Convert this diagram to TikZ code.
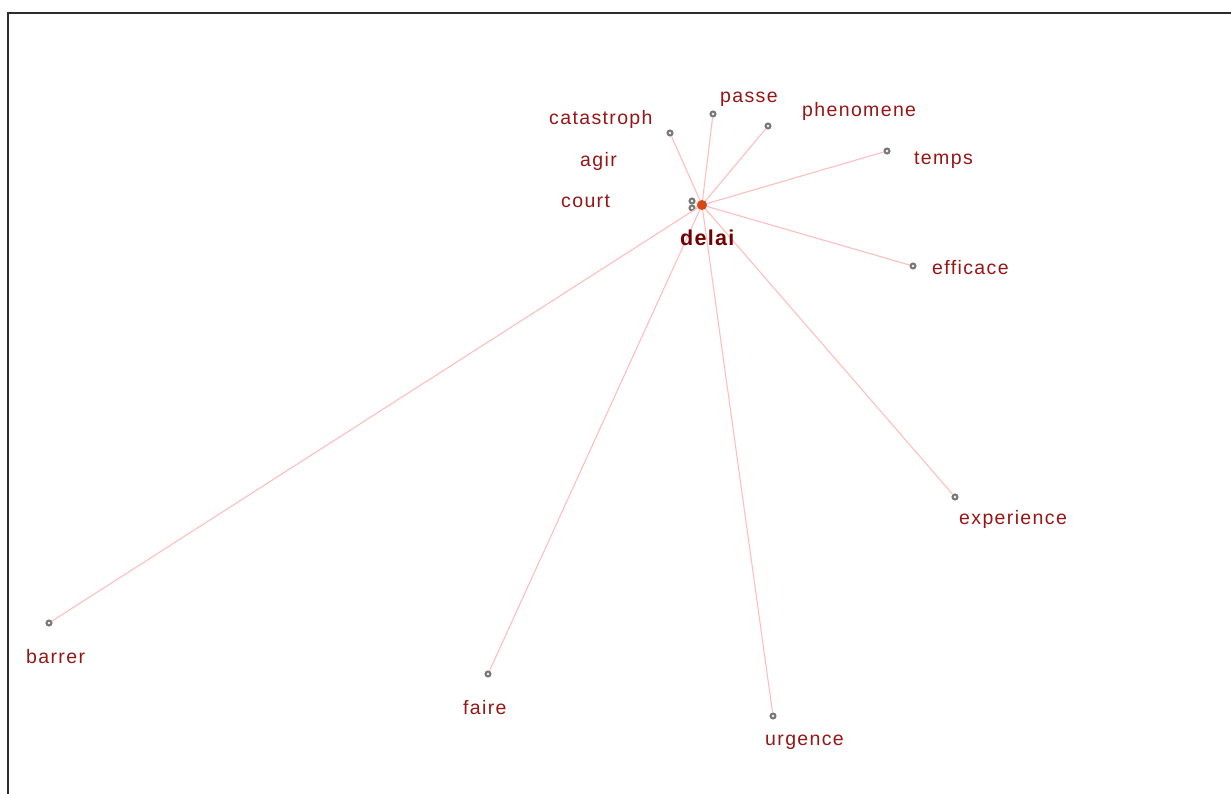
\documentclass[tikz,border=0pt]{standalone}
\usepackage{fontspec}
\setmainfont{Liberation Sans}
\newfontfamily\lblfont[LetterSpace=7]{Liberation Sans}
\newfontfamily\hubfont[LetterSpace=6]{Liberation Sans}
\usepackage{tikz}
\usetikzlibrary{positioning,calc}
\definecolor{wordred}{RGB}{150,22,22}
\definecolor{hubred}{RGB}{115,0,0}
\definecolor{hubdot}{RGB}{214,72,20}
\definecolor{linkpink}{RGB}{255,190,190}
\definecolor{dotgray}{RGB}{120,120,120}
\definecolor{framegray}{RGB}{45,45,45}

\begin{document}
\begin{tikzpicture}[
  x=1pt,y=-1pt,
  word/.style={font=\lblfont\fontsize{19.5}{20}\selectfont,text=wordred,anchor=base west,inner sep=0pt},
  hubword/.style={font=\hubfont\bfseries\fontsize{21.5}{22}\selectfont,text=hubred,anchor=base west,inner sep=0pt},
  dot/.style={circle,draw=dotgray,fill=white!85!dotgray,line width=2pt,minimum size=5pt,inner sep=0pt},
  hub/.style={circle,fill=hubdot,minimum size=10pt,inner sep=0pt},
  link/.style={draw=linkpink,line width=1.1pt},
]
  \useasboundingbox (0,0) rectangle (1231,794);

  % Frame
  \draw[framegray,line width=2pt] (8,794) -- (8,13.5) -- (1231,13.5);

  % Word points
  \node[dot] (catastroph) at (670,133) {};
  \node[dot] (passe) at (713,114) {};
  \node[dot] (phenomene) at (768,126) {};
  \node[dot] (temps) at (887,151) {};
  \node[dot] (agir) at (692,201) {};
  \node[dot] (court) at (692,208) {};
  \node[dot] (efficace) at (913,266) {};
  \node[dot] (experience) at (955,497) {};
  \node[dot] (barrer) at (49,623) {};
  \node[dot] (faire) at (488,674) {};
  \node[dot] (urgence) at (773,716) {};

  % Links from the hub
  \coordinate (delaipt) at (702,205);
  \foreach \w in {catastroph,passe,phenomene,temps,agir,court,efficace,experience,barrer,faire,urgence}
    \draw[link] (delaipt) -- (\w);

  % Hub
  \node[hub] (delai) at (delaipt) {};

  % Labels
  \node[word] (catastrophlbl) at (549,125) {catastroph};
  \node[word] (passelbl) at (720,103) {passe};
  \node[word] (phenomenelbl) at (802,117) {phenomene};
  \node[word] (tempslbl) at (914,165) {temps};
  \node[word] (agirlbl) at (580,167) {agir};
  \node[word] (courtlbl) at (561,208) {court};
  \node[hubword] (delailbl) at (680,246) {delai};
  \node[word] (efficacelbl) at (932,275) {efficace};
  \node[word] (experiencelbl) at (959,524) {experience};
  \node[word] (barrerlbl) at (26,663) {barrer};
  \node[word] (fairelbl) at (463,714) {faire};
  \node[word] (urgencelbl) at (765,745) {urgence};
\end{tikzpicture}
\end{document}
